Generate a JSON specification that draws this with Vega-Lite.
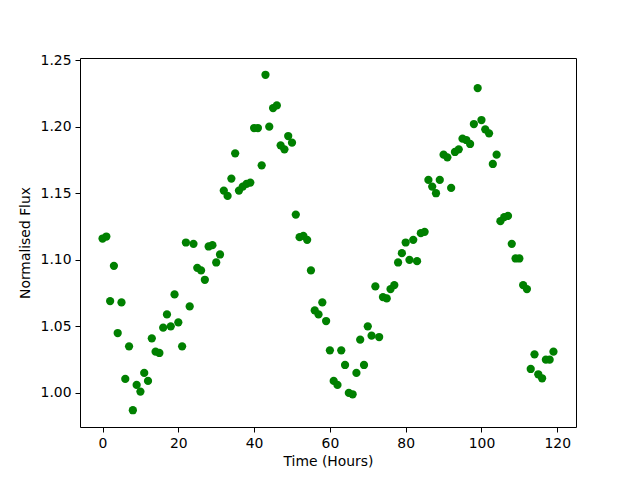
{
  "$schema": "https://vega.github.io/schema/vega-lite/v6.json",
  "width": 496,
  "height": 369,
  "autosize": {"type": "none"},
  "padding": {"left": 80, "top": 58, "right": 64, "bottom": 53},
  "background": "white",
  "config": {
    "view": {"stroke": "black", "strokeWidth": 1},
    "axis": {
      "font": "DejaVu Sans",
      "labelFont": "DejaVu Sans",
      "titleFont": "DejaVu Sans",
      "labelFontSize": 13.9,
      "titleFontSize": 13.9,
      "titleFontWeight": "normal",
      "labelColor": "black",
      "titleColor": "black",
      "tickColor": "black",
      "domain": false,
      "grid": false,
      "tickSize": 5,
      "tickWidth": 1
    }
  },
  "data": {
    "values": [
      {"t": 0, "f": 1.116}, {"t": 1, "f": 1.1175}, {"t": 2, "f": 1.069}, {"t": 3, "f": 1.0955},
      {"t": 4, "f": 1.045}, {"t": 5, "f": 1.068}, {"t": 6, "f": 1.0105}, {"t": 7, "f": 1.035},
      {"t": 8, "f": 0.987}, {"t": 9, "f": 1.006}, {"t": 10, "f": 1.001}, {"t": 11, "f": 1.015},
      {"t": 12, "f": 1.009}, {"t": 13, "f": 1.041}, {"t": 14, "f": 1.031}, {"t": 15, "f": 1.030},
      {"t": 16, "f": 1.049}, {"t": 17, "f": 1.059}, {"t": 18, "f": 1.050}, {"t": 19, "f": 1.074},
      {"t": 20, "f": 1.053}, {"t": 21, "f": 1.035}, {"t": 22, "f": 1.113}, {"t": 23, "f": 1.065},
      {"t": 24, "f": 1.112}, {"t": 25, "f": 1.094}, {"t": 26, "f": 1.092}, {"t": 27, "f": 1.085},
      {"t": 28, "f": 1.110}, {"t": 29, "f": 1.111}, {"t": 30, "f": 1.098}, {"t": 31, "f": 1.104},
      {"t": 32, "f": 1.152}, {"t": 33, "f": 1.148}, {"t": 34, "f": 1.161}, {"t": 35, "f": 1.180},
      {"t": 36, "f": 1.152}, {"t": 37, "f": 1.155}, {"t": 38, "f": 1.157}, {"t": 39, "f": 1.158},
      {"t": 40, "f": 1.199}, {"t": 41, "f": 1.199}, {"t": 42, "f": 1.171}, {"t": 43, "f": 1.239},
      {"t": 44, "f": 1.200}, {"t": 45, "f": 1.214}, {"t": 46, "f": 1.216}, {"t": 47, "f": 1.186},
      {"t": 48, "f": 1.183}, {"t": 49, "f": 1.193}, {"t": 50, "f": 1.188}, {"t": 51, "f": 1.134},
      {"t": 52, "f": 1.117}, {"t": 53, "f": 1.118}, {"t": 54, "f": 1.115}, {"t": 55, "f": 1.092},
      {"t": 56, "f": 1.062}, {"t": 57, "f": 1.059}, {"t": 58, "f": 1.068}, {"t": 59, "f": 1.054},
      {"t": 60, "f": 1.032}, {"t": 61, "f": 1.009}, {"t": 62, "f": 1.006}, {"t": 63, "f": 1.032},
      {"t": 64, "f": 1.021}, {"t": 65, "f": 1.000}, {"t": 66, "f": 0.999}, {"t": 67, "f": 1.015},
      {"t": 68, "f": 1.040}, {"t": 69, "f": 1.021}, {"t": 70, "f": 1.050}, {"t": 71, "f": 1.043},
      {"t": 72, "f": 1.080}, {"t": 73, "f": 1.042}, {"t": 74, "f": 1.072}, {"t": 75, "f": 1.071},
      {"t": 76, "f": 1.078}, {"t": 77, "f": 1.081}, {"t": 78, "f": 1.098}, {"t": 79, "f": 1.105},
      {"t": 80, "f": 1.113}, {"t": 81, "f": 1.100}, {"t": 82, "f": 1.115}, {"t": 83, "f": 1.099},
      {"t": 84, "f": 1.120}, {"t": 85, "f": 1.121}, {"t": 86, "f": 1.160}, {"t": 87, "f": 1.155},
      {"t": 88, "f": 1.150}, {"t": 89, "f": 1.160}, {"t": 90, "f": 1.179}, {"t": 91, "f": 1.177},
      {"t": 92, "f": 1.154}, {"t": 93, "f": 1.181}, {"t": 94, "f": 1.183}, {"t": 95, "f": 1.191},
      {"t": 96, "f": 1.190}, {"t": 97, "f": 1.187}, {"t": 98, "f": 1.202}, {"t": 99, "f": 1.229},
      {"t": 100, "f": 1.205}, {"t": 101, "f": 1.198}, {"t": 102, "f": 1.195}, {"t": 103, "f": 1.172},
      {"t": 104, "f": 1.179}, {"t": 105, "f": 1.129}, {"t": 106, "f": 1.132}, {"t": 107, "f": 1.133},
      {"t": 108, "f": 1.112}, {"t": 109, "f": 1.101}, {"t": 110, "f": 1.101}, {"t": 111, "f": 1.081},
      {"t": 112, "f": 1.078}, {"t": 113, "f": 1.018}, {"t": 114, "f": 1.029}, {"t": 115, "f": 1.014},
      {"t": 116, "f": 1.011}, {"t": 117, "f": 1.025}, {"t": 118, "f": 1.025}, {"t": 119, "f": 1.031}
    ]
  },
  "mark": {"type": "point", "filled": true, "shape": "circle", "size": 68, "color": "#008000", "opacity": 1},
  "encoding": {
    "x": {
      "field": "t",
      "type": "quantitative",
      "title": "Time (Hours)",
      "scale": {"domain": [-5.95, 124.95], "nice": false, "zero": false},
      "axis": {"values": [0, 20, 40, 60, 80, 100, 120], "format": "d", "labelPadding": 4, "titlePadding": 5}
    },
    "y": {
      "field": "f",
      "type": "quantitative",
      "title": "Normalised Flux",
      "scale": {"domain": [0.9744, 1.2516], "nice": false, "zero": false},
      "axis": {"values": [1.0, 1.05, 1.1, 1.15, 1.2, 1.25], "format": ".2f", "labelPadding": 4, "titlePadding": 8}
    }
  }
}
